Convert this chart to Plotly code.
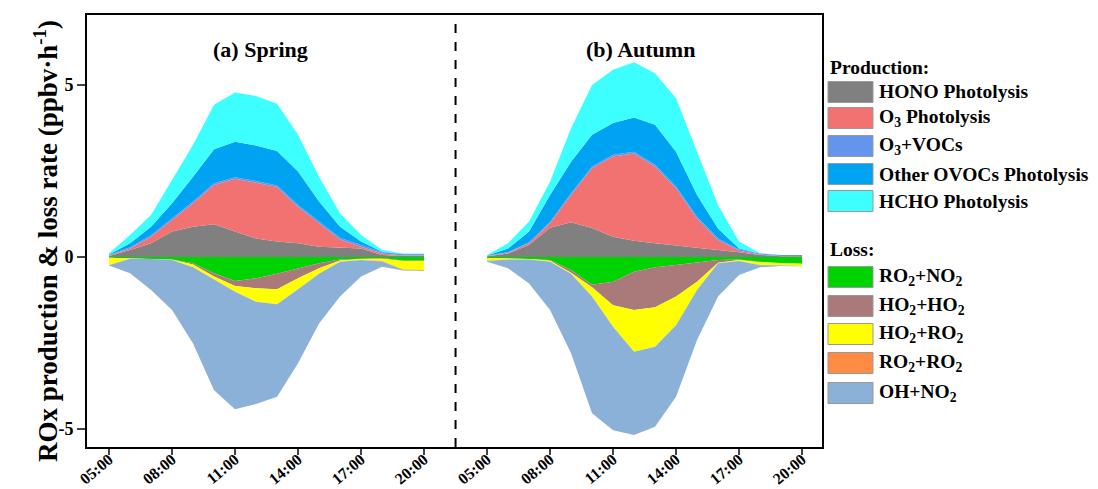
import plotly.graph_objects as go

# ---------------- data ----------------
hours = list(range(5, 21))
tick_hours = [5, 8, 11, 14, 17, 20]
tick_labels = ["05:00", "08:00", "11:00", "14:00", "17:00", "20:00"]
autumn_offset = 18  # autumn panel placed after spring on a shared axis

# Spring production (ppbv/h)
spring_hono = [0.03, 0.20, 0.40, 0.74, 0.88, 0.95, 0.74, 0.54, 0.45, 0.40, 0.30, 0.28, 0.25, 0.06, 0.03, 0.03]
spring_o3 = [0.01, 0.05, 0.19, 0.34, 0.68, 1.14, 1.53, 1.62, 1.58, 1.06, 0.68, 0.23, 0.05, 0.04, 0.01, 0.01]
spring_o3voc = [0.02, 0.03, 0.04, 0.05, 0.05, 0.05, 0.05, 0.05, 0.05, 0.05, 0.05, 0.05, 0.05, 0.04, 0.04, 0.04]
spring_ovoc = [0.01, 0.12, 0.25, 0.43, 0.72, 0.99, 1.03, 1.03, 1.00, 0.97, 0.58, 0.32, 0.10, 0.01, 0.01, 0.01]
spring_hcho = [0.04, 0.24, 0.34, 0.68, 0.93, 1.29, 1.43, 1.44, 1.37, 1.07, 0.72, 0.39, 0.19, 0.06, 0.01, 0.01]
# Spring loss (ppbv/h, magnitudes)
spring_ro2no2 = [0.02, 0.04, 0.06, 0.07, 0.18, 0.47, 0.70, 0.62, 0.49, 0.33, 0.18, 0.07, 0.04, 0.03, 0.10, 0.10]
spring_ho2ho2 = [0.00, 0.00, 0.00, 0.01, 0.04, 0.10, 0.14, 0.29, 0.45, 0.29, 0.15, 0.03, 0.02, 0.02, 0.02, 0.02]
spring_ho2ro2 = [0.21, 0.01, 0.00, 0.01, 0.08, 0.08, 0.17, 0.39, 0.43, 0.32, 0.16, 0.04, 0.03, 0.07, 0.24, 0.26]
spring_ro2ro2 = [0.01, 0.00, 0.00, 0.00, 0.00, 0.00, 0.00, 0.00, 0.00, 0.00, 0.00, 0.00, 0.00, 0.01, 0.02, 0.02]
spring_ohno2 = [0.01, 0.42, 0.90, 1.45, 2.21, 3.22, 3.41, 2.97, 2.69, 2.15, 1.44, 1.01, 0.48, 0.15, 0.01, 0.01]

# Autumn production
autumn_hono = [0.02, 0.10, 0.35, 0.85, 1.01, 0.84, 0.59, 0.47, 0.40, 0.33, 0.25, 0.20, 0.14, 0.06, 0.02, 0.02]
autumn_o3 = [0.01, 0.02, 0.05, 0.13, 0.79, 1.74, 2.33, 2.54, 2.23, 1.67, 0.87, 0.29, 0.04, 0.01, 0.01, 0.01]
autumn_o3voc = [0.01, 0.02, 0.03, 0.04, 0.05, 0.05, 0.05, 0.05, 0.05, 0.05, 0.05, 0.05, 0.04, 0.03, 0.03, 0.03]
autumn_ovoc = [0.00, 0.11, 0.31, 0.78, 0.92, 0.92, 0.92, 0.99, 1.16, 1.01, 0.63, 0.29, 0.03, 0.00, 0.00, 0.00]
autumn_hcho = [0.02, 0.15, 0.29, 0.39, 0.97, 1.45, 1.55, 1.61, 1.50, 1.55, 1.26, 0.68, 0.20, 0.01, 0.00, 0.00]
# Autumn loss
autumn_ro2no2 = [0.03, 0.04, 0.06, 0.09, 0.38, 0.81, 0.72, 0.43, 0.30, 0.23, 0.16, 0.09, 0.07, 0.14, 0.18, 0.20]
autumn_ho2ho2 = [0.00, 0.00, 0.00, 0.02, 0.08, 0.07, 0.68, 1.11, 1.16, 0.92, 0.56, 0.08, 0.02, 0.01, 0.00, 0.00]
autumn_ho2ro2 = [0.08, 0.03, 0.01, 0.03, 0.03, 0.27, 0.63, 1.21, 1.15, 0.83, 0.24, 0.01, 0.03, 0.08, 0.06, 0.06]
autumn_ro2ro2 = [0.01, 0.00, 0.00, 0.00, 0.00, 0.00, 0.00, 0.00, 0.00, 0.00, 0.00, 0.00, 0.00, 0.01, 0.01, 0.01]
autumn_ohno2 = [0.02, 0.26, 0.70, 1.40, 2.31, 3.39, 3.00, 2.42, 2.32, 2.08, 1.45, 0.97, 0.40, 0.06, 0.01, 0.00]

prod_names = ["HONO Photolysis", "O<sub>3</sub> Photolysis", "O<sub>3</sub>+VOCs",
              "Other OVOCs Photolysis", "HCHO Photolysis"]
loss_names = ["RO<sub>2</sub>+NO<sub>2</sub>", "HO<sub>2</sub>+HO<sub>2</sub>", "HO<sub>2</sub>+RO<sub>2</sub>",
              "RO<sub>2</sub>+RO<sub>2</sub>", "OH+NO<sub>2</sub>"]
prod_colors = ["#808080", "#F27272", "#6495ED", "#00A2F2", "#3EFFFF"]
loss_colors = ["#00D400", "#AA7A7A", "#FFFF00", "#FF8C42", "#8CB1D8"]

panels = [
    ("spring", 0, [spring_hono, spring_o3, spring_o3voc, spring_ovoc, spring_hcho],
     [spring_ro2no2, spring_ho2ho2, spring_ho2ro2, spring_ro2ro2, spring_ohno2]),
    ("autumn", autumn_offset, [autumn_hono, autumn_o3, autumn_o3voc, autumn_ovoc, autumn_hcho],
     [autumn_ro2no2, autumn_ho2ho2, autumn_ho2ro2, autumn_ro2ro2, autumn_ohno2]),
]

FONT = "Liberation Serif"
fig = go.Figure()

for key, off, prods, losses in panels:
    x = [h + off for h in hours]
    for name, col, vals in zip(prod_names, prod_colors, prods):
        fig.add_trace(go.Scatter(x=x, y=vals, stackgroup=key + "_prod", mode="lines",
                                 line=dict(width=0, color=col), fillcolor=col,
                                 name=name, showlegend=False, hoverinfo="skip"))
    for name, col, vals in zip(loss_names, loss_colors, losses):
        fig.add_trace(go.Scatter(x=x, y=[-v for v in vals], stackgroup=key + "_loss", mode="lines",
                                 line=dict(width=0, color=col), fillcolor=col,
                                 name=name, showlegend=False, hoverinfo="skip"))

tickvals = tick_hours + [h + autumn_offset for h in tick_hours]
ticktext = tick_labels + tick_labels

# plot-area pixel geometry
L, R, T, B = 87, 822, 15, 447
W, H = 1098, 489

def px(xp):
    return (xp - L) / (R - L)

def py(yp):
    return (B - yp) / (B - T)

fig.update_layout(
    width=W, height=H,
    margin=dict(l=L, r=W - R, t=T, b=H - B, autoexpand=False),
    plot_bgcolor="white", paper_bgcolor="white",
    font=dict(family=FONT, color="black"),
    xaxis=dict(range=[3.95, 38.95], tickvals=tickvals, ticktext=ticktext,
               tickangle=-40, ticks="outside", ticklen=6, tickwidth=1.5,
               ticklabelstandoff=-11,
               showline=True, linecolor="black", linewidth=2, mirror=True,
               showgrid=False, zeroline=False, automargin=False,
               tickfont=dict(family=FONT, size=16, weight="bold", color="black")),
    yaxis=dict(range=[-5.52, 7.03], tickvals=[-5, 0, 5], ticktext=["-5", "0", "5"],
               ticks="outside", ticklen=8, tickwidth=1.5,
               showline=True, linecolor="black", linewidth=2, mirror=True,
               showgrid=False, zeroline=False, automargin=False,
               tickfont=dict(family=FONT, size=18, weight="bold", color="black")),
)

# divider between panels
fig.add_shape(type="line", xref="x", yref="paper", x0=21.5, x1=21.5, y0=0, y1=1,
              line=dict(color="black", width=2, dash="dash"))

annos = []
annos.append(dict(x=12.2, y=py(35), xref="x", yref="paper", text="<b>(a) Spring</b>",
                  showarrow=False, font=dict(family=FONT, size=22, color="black")))
annos.append(dict(x=30.3, y=py(35), xref="x", yref="paper", text="<b>(b) Autumn</b>",
                  showarrow=False, font=dict(family=FONT, size=22, color="black")))
annos.append(dict(x=px(27), y=py(241), xref="paper", yref="paper",
                  text="<b>ROx production & loss rate (ppbv·h<sup>-1</sup>)</b>",
                  textangle=-90, showarrow=False, font=dict(family=FONT, size=27, color="black")))

# manual legend
LEG = 19.5
annos.append(dict(x=px(828), y=py(67), xref="paper", yref="paper", text="<b>Production:</b>",
                  xanchor="left", yanchor="middle", showarrow=False,
                  font=dict(family=FONT, size=LEG, color="black")))
annos.append(dict(x=px(828), y=py(250), xref="paper", yref="paper", text="<b>Loss:</b>",
                  xanchor="left", yanchor="middle", showarrow=False,
                  font=dict(family=FONT, size=LEG, color="black")))
prod_y = [92, 118, 146, 174, 201]
loss_y = [277, 306, 334, 363, 393]
for names, cols, ys in [(prod_names, prod_colors, prod_y), (loss_names, loss_colors, loss_y)]:
    for name, col, yc in zip(names, cols, ys):
        fig.add_shape(type="rect", xref="paper", yref="paper",
                      x0=px(828), x1=px(873), y0=py(yc + 10.5), y1=py(yc - 10.5),
                      fillcolor=col, line=dict(color="#999999", width=1))
        annos.append(dict(x=px(877), y=py(yc), xref="paper", yref="paper", text="<b>" + name + "</b>",
                          xanchor="left", yanchor="middle", showarrow=False,
                          font=dict(family=FONT, size=LEG, color="black")))

fig.update_layout(annotations=annos)
fig.write_html("out.html")
